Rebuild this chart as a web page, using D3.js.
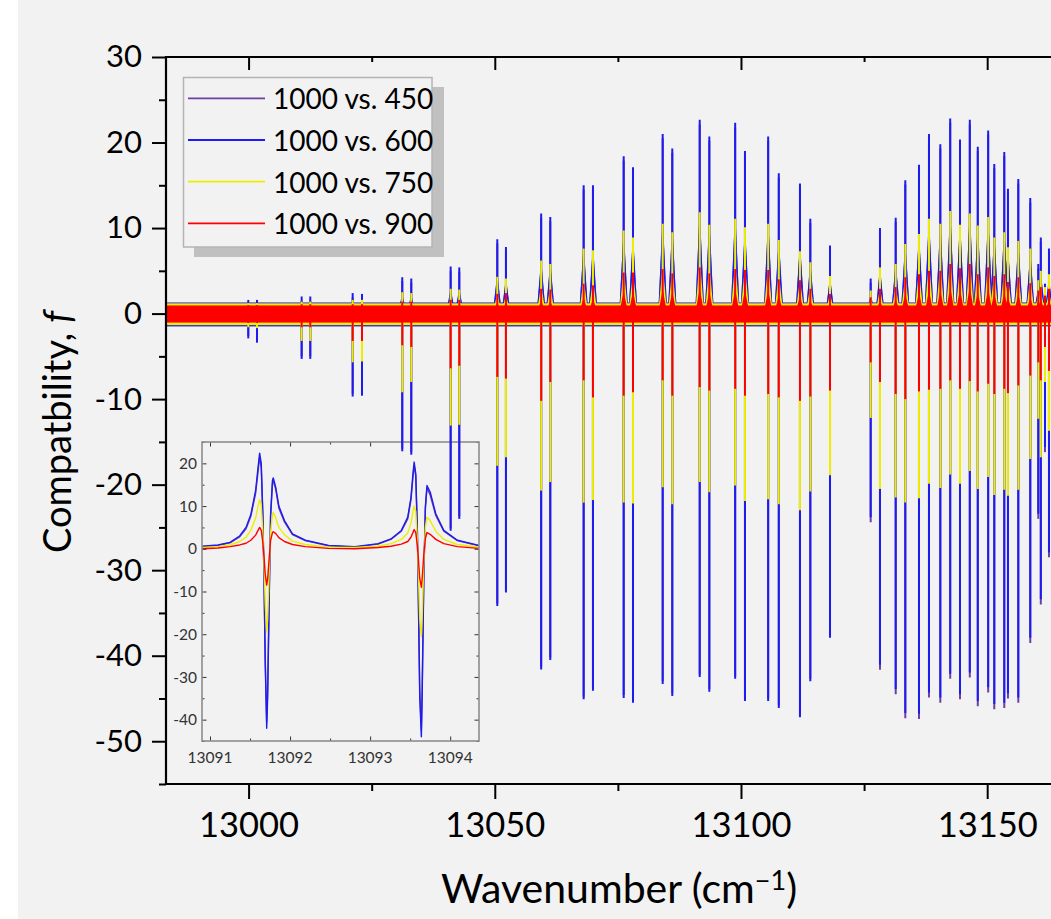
<!doctype html>
<html lang="en">
<head>
<meta charset="utf-8">
<title>Compatibility spectra</title>
<style>
  body { margin: 0; background: #ffffff; }
  svg { display: block; font-family: Lato, "Open Sans", sans-serif; }
</style>
</head>
<body>
<script src="https://cdnjs.cloudflare.com/ajax/libs/d3/7.8.5/d3.min.js"></script>
<script>

// ---- data ----
var seriesNames = ["1000 vs. 450", "1000 vs. 600", "1000 vs. 750", "1000 vs. 900"];
var seriesColors = ["#6e3fa3", "#1c1cf0", "#eded00", "#ff0000"];

// line centres (cm-1)
var lineWn = [12999.94, 13001.71, 13010.78, 13012.53, 13021.14, 13023.03, 13031.21, 13033.04,
  13041.04, 13042.79, 13050.51, 13052.27, 13059.42, 13061.27, 13068.05, 13069.94,
  13076.18, 13078.07, 13084.10, 13086.05, 13091.62, 13093.57, 13098.82, 13100.81,
  13105.52, 13107.68, 13111.98, 13114.08, 13118.08, 13126.34, 13128.23, 13131.42,
  13133.37, 13136.15, 13138.18, 13140.48, 13142.49, 13144.48, 13146.47, 13148.09,
  13150.20, 13151.44, 13153.47, 13154.22, 13156.32, 13158.75, 13160.38, 13160.89,
  13161.74, 13162.55];

// positive and negative extremes of f at each line
var max450 = [1.1, 1.1, 1.5, 1.5, 1.9, 1.8, 3.8, 3.6, 5.0, 4.9, 8.2, 7.3, 11.2, 10.8, 14.5, 14.5,
  17.9, 16.6, 20.5, 18.8, 22.1, 20.2, 21.8, 18.5, 20.2, 15.9, 14.7, 10.6, 7.4, 3.6, 9.5, 10.7,
  15.1, 16.9, 20.5, 19.3, 22.3, 19.8, 22.1, 19.0, 20.9, 17.0, 18.4, 14.1, 15.2, 13.0, 5.3, 8.4, 3.0, 7.1];
var min450 = [-2.6, -3.1, -5.0, -5.0, -9.4, -9.3, -15.8, -16.2, -25.1, -23.7, -33.9, -32.3, -41.3, -40.2,
  -44.8, -43.8, -44.6, -45.2, -43.0, -44.4, -42.2, -43.9, -42.4, -45.0, -45.0, -45.8, -46.9, -42.7, -37.6,
  -24.4, -41.65, -44.5, -47.3, -47.4, -44.9, -45.5, -42.7, -45.1, -42.55, -45.9, -44.3, -46.25, -46.1,
  -45.0, -45.5, -38.5, -24.0, -34.0, -16.2, -28.5];

var max600 = [1.6, 1.6, 2.0, 2.0, 2.4, 2.3, 4.25, 4.1, 5.5, 5.4, 8.7, 7.8, 11.7, 11.3, 15.0, 15.0,
  18.4, 17.1, 21.0, 19.3, 22.65, 20.7, 22.3, 19.0, 20.7, 16.4, 15.2, 11.1, 7.95, 4.1, 10.0, 11.2,
  15.6, 17.4, 21.0, 19.8, 22.8, 20.35, 22.65, 19.5, 21.4, 17.5, 18.9, 14.6, 15.75, 13.5, 5.8, 8.9, 3.5, 7.6];
var min600 = [-2.9, -3.4, -5.3, -5.3, -9.7, -9.6, -16.1, -16.5, -25.4, -24.0, -34.2, -32.6, -41.6, -40.5,
  -45.1, -44.1, -44.95, -45.5, -43.3, -44.7, -42.5, -44.2, -42.7, -45.3, -45.3, -46.1, -47.2, -43.0, -37.9,
  -23.8, -41.05, -43.9, -46.7, -46.8, -44.3, -44.9, -42.1, -44.5, -41.95, -45.3, -43.7, -45.65, -45.5,
  -44.4, -44.9, -37.9, -23.4, -33.4, -15.6, -27.9];

var max750 = [1.2, 1.2, 1.4, 1.4, 1.6, 1.6, 2.5, 2.4, 2.9, 2.8, 4.3, 4.1, 6.2, 5.8, 7.6, 7.4,
  9.7, 8.9, 10.5, 9.5, 11.85, 10.4, 11.1, 10.1, 10.5, 8.6, 7.3, 6.0, 4.4, 2.7, 5.4, 5.8,
  8.15, 9.3, 11.1, 10.5, 12.0, 10.4, 11.7, 10.3, 11.3, 8.9, 9.5, 7.75, 8.5, 7.6, 3.9, 5.0, 3.1, 4.6];
var min750 = [-1.6, -1.7, -3.2, -3.2, -5.7, -5.6, -9.2, -8.0, -13.1, -13.0, -17.8, -16.8, -20.7, -19.7,
  -22.1, -21.8, -22.1, -22.2, -20.3, -22.3, -19.7, -20.9, -20.1, -21.9, -21.7, -22.3, -23.0, -20.8, -18.9,
  -12.2, -20.5, -21.5, -22.1, -21.6, -19.9, -20.4, -18.8, -19.9, -18.4, -20.5, -19.1, -21.2, -20.6,
  -21.3, -20.6, -17.0, -12.3, -16.8, -8.0, -13.7];

var max900 = [1.0, 1.0, 1.1, 1.1, 1.1, 1.1, 1.4, 1.4, 1.6, 1.6, 2.3, 2.4, 2.9, 2.8, 3.5, 3.3,
  4.8, 4.8, 5.2, 4.7, 5.4, 4.7, 5.2, 5.1, 5.1, 4.0, 3.9, 2.9, 2.3, 1.9, 2.9, 3.1,
  4.25, 4.6, 5.0, 5.0, 5.8, 5.3, 5.8, 4.6, 5.4, 4.4, 4.6, 3.7, 4.25, 3.55, 2.7, 3.1, 2.1, 2.9];
var min900 = [-1.1, -1.1, -1.6, -1.6, -3.2, -3.2, -3.7, -3.9, -6.4, -6.1, -7.4, -7.6, -10.2, -8.0,
  -7.8, -9.8, -9.6, -9.2, -7.8, -9.6, -8.6, -9.0, -8.8, -9.6, -9.4, -9.8, -10.2, -9.7, -9.0,
  -5.7, -8.0, -9.4, -10.0, -9.1, -8.9, -8.8, -7.8, -8.8, -7.9, -9.1, -8.2, -9.4, -8.8,
  -9.3, -8.4, -7.25, -5.7, -7.8, -3.9, -6.7];

// baseline noise envelope of each series
var noiseUpper = [1.0, 1.3, 1.2, 0.95];
var noiseLower = [-1.0, -1.5, -1.35, -1.05];

// inset: one doublet traced point by point
var insetWn = [13090.9, 13091.1, 13091.25, 13091.37, 13091.45, 13091.51, 13091.57, 13091.6, 13091.62,
  13091.64, 13091.66, 13091.675, 13091.69, 13091.708, 13091.72, 13091.74, 13091.757, 13091.78, 13091.79,
  13091.82, 13091.86, 13091.93, 13092.03, 13092.19, 13092.48, 13092.81, 13093.1, 13093.26, 13093.39,
  13093.47, 13093.51, 13093.535, 13093.55, 13093.57, 13093.59, 13093.605, 13093.62, 13093.64, 13093.65,
  13093.67, 13093.69, 13093.71, 13093.75, 13093.82, 13093.92, 13094.09, 13094.36];
var inset450 = [0.5, 0.8, 1.4, 2.8, 4.7, 7.6, 13, 18, 21.5, 19, 7.6, -7, -26, -40.5, -33, -10.5, 7.6, 15.2,
  16, 14, 9.5, 6.3, 3.3, 1.9, 0.7, 0.4, 1.1, 2.2, 4.1, 7, 11.4, 16.7, 19.5, 17, 4.1, -14, -33, -42.5, -33,
  -7, 9.3, 14.2, 12.6, 7.8, 4.1, 1.9, 0.7];
var inset600 = [0.6, 0.9, 1.5, 3, 5, 8, 13.7, 19, 22.4, 20, 8, -7.4, -27, -42, -34.8, -11, 8, 16, 16.6,
  14.5, 10, 6.6, 3.5, 2, 0.8, 0.5, 1.2, 2.3, 4.3, 7.4, 12, 17.6, 20.3, 17.6, 4.3, -15, -34.8, -44, -34.8,
  -7.4, 9.8, 14.8, 13.3, 8.2, 4.3, 2, 0.8];
var inset750 = [0.3, 0.5, 0.9, 1.7, 2.7, 4.3, 7.2, 10, 11.5, 10.3, 4, -4, -13, -19.5, -16.5, -5, 4, 8, 8.5,
  7.3, 5, 3.3, 1.8, 1, 0.4, 0.3, 0.6, 1.2, 2.2, 3.7, 6, 8.7, 10, 8.8, 2, -7, -16.5, -20.5, -16.5, -3.5, 5,
  7.4, 6.6, 4.1, 2.2, 1, 0.4];
var inset900 = [0, 0.2, 0.5, 0.9, 1.3, 2, 3.2, 4.3, 5, 4.3, 1.5, -2, -6, -8.5, -7, -2, 2, 3.8, 4, 3.6, 2.6,
  1.7, 1, 0.5, 0.1, 0, 0.3, 0.6, 1.1, 1.7, 2.7, 3.8, 4.5, 3.8, 0.8, -3, -7, -9, -7, -1.5, 2.4, 3.8, 3.4,
  2.2, 1.2, 0.5, 0.1];

// ticks
var xTicks = [13000, 13050, 13100, 13150];
var xMinor = [13025, 13075, 13125];
var yTicks = [-50, -40, -30, -20, -10, 0, 10, 20, 30];
var yMinor = [-55, -45, -35, -25, -15, -5, 5, 15, 25];
var insetXTicks = [13091, 13092, 13093, 13094];
var insetXMinor = [13091.5, 13092.5, 13093.5];
var insetYTicks = [-40, -30, -20, -10, 0, 10, 20];
var insetYMinor = [-45, -35, -25, -15, -5, 5, 15, 25];

var seriesMax = [max450, max600, max750, max900];
var seriesMin = [min450, min600, min750, min900];
var insetSeries = [inset450, inset600, inset750, inset900];

// ---- layout ----
var w = 1051, h = 919;

var svg = d3.select("body").append("svg")
    .attr("width", w)
    .attr("height", h);

svg.append("rect").attr("width", w).attr("height", h).attr("fill", "#ffffff");
svg.append("rect").attr("x", 18).attr("width", w - 18).attr("height", h).attr("fill", "#f2f2f2");

var x = d3.scaleLinear().domain([12983.23, 13162.96]).range([166, 1051]);
var y = d3.scaleLinear().domain([-55, 30]).range([784, 57]);

var ix = d3.scaleLinear().domain([13090.9, 13094.36]).range([202, 479]);
var iy = d3.scaleLinear().domain([-45, 25]).range([741, 442]);

var defs = svg.append("defs");
defs.append("clipPath").attr("id", "mainClip")
  .append("rect").attr("x", 166).attr("y", 57).attr("width", 885).attr("height", 727);
defs.append("clipPath").attr("id", "insetClip")
  .append("rect").attr("x", 202).attr("y", 442).attr("width", 277).attr("height", 299);

// ---- inset (under the main traces) ----
var inset = svg.append("g");
inset.append("rect")
    .attr("x", 202).attr("y", 442).attr("width", 277).attr("height", 299)
    .attr("fill", "#f2f2f2");

var insetLine = d3.line()
    .x(function(d, i) { return ix(insetWn[i]); })
    .y(function(d) { return iy(d); });

inset.append("g").attr("clip-path", "url(#insetClip)")
  .selectAll("path")
  .data(insetSeries)
  .enter()
  .append("path")
    .attr("d", insetLine)
    .attr("fill", "none")
    .attr("stroke", function(d, i) { return seriesColors[i]; })
    .attr("stroke-width", 1.4)
    .attr("stroke-linejoin", "round");

function insetTicks(axis, tx, ty, values, size) {
  var g = inset.append("g")
      .attr("transform", "translate(" + tx + "," + ty + ")")
      .call(axis.tickValues(values).tickSize(size).tickSizeOuter(0).tickFormat(""));
  g.select(".domain").remove();
  g.selectAll(".tick line").attr("stroke", "#333").attr("stroke-width", 1);
}
insetTicks(d3.axisRight(iy), 202, 0, insetYTicks, 4.5);
insetTicks(d3.axisRight(iy), 202, 0, insetYMinor, 2.5);
insetTicks(d3.axisLeft(iy), 479, 0, insetYTicks, 4.5);
insetTicks(d3.axisLeft(iy), 479, 0, insetYMinor, 2.5);
insetTicks(d3.axisTop(ix), 0, 741, insetXTicks, 4.5);
insetTicks(d3.axisTop(ix), 0, 741, insetXMinor, 2.5);
insetTicks(d3.axisBottom(ix), 0, 442, insetXTicks, 4.5);
insetTicks(d3.axisBottom(ix), 0, 442, insetXMinor, 2.5);

inset.append("rect")
    .attr("x", 202).attr("y", 442).attr("width", 277).attr("height", 299)
    .attr("fill", "none")
    .attr("stroke", "#8c8c8c")
    .attr("stroke-width", 1.6);

inset.selectAll(".iyLabel")
  .data(insetYTicks)
  .enter()
  .append("text")
    .attr("x", 197)
    .attr("y", function(d) { return iy(d); })
    .attr("dy", "0.36em")
    .attr("text-anchor", "end")
    .attr("font-size", 15.5)
    .attr("fill", "#333")
    .text(function(d) { return d; });

inset.selectAll(".ixLabel")
  .data(insetXTicks)
  .enter()
  .append("text")
    .attr("x", function(d) { return ix(d); })
    .attr("y", 763)
    .attr("text-anchor", "middle")
    .attr("font-size", 15.5)
    .attr("fill", "#333")
    .text(function(d) { return d; });

// ---- main traces ----
var plot = svg.append("g").attr("clip-path", "url(#mainClip)");

seriesNames.forEach(function(name, s) {
  var g = plot.append("g");

  g.append("rect")
      .attr("x", x.range()[0])
      .attr("width", x.range()[1] - x.range()[0])
      .attr("y", y(noiseUpper[s]))
      .attr("height", y(noiseLower[s]) - y(noiseUpper[s]))
      .attr("fill", seriesColors[s]);

  // broadened foot of each positive lobe
  g.selectAll("path.wing")
    .data(lineWn)
    .enter()
    .append("path")
      .attr("class", "wing")
      .attr("d", function(d, i) {
        var cx = x(d), top = y(seriesMax[s][i] * 0.55), base = y(0);
        return "M" + (cx - 4.5) + "," + base + "L" + cx + "," + top + "L" + (cx + 4.5) + "," + base + "Z";
      })
      .attr("fill", seriesColors[s]);

  g.selectAll("line")
    .data(lineWn)
    .enter()
    .append("line")
      .attr("x1", function(d) { return x(d); })
      .attr("x2", function(d) { return x(d); })
      .attr("y1", function(d, i) { return y(seriesMax[s][i]); })
      .attr("y2", function(d, i) { return y(seriesMin[s][i]); })
      .attr("stroke", seriesColors[s])
      .attr("stroke-width", 2);
});

// ---- axes ----
function styleAxis(g, fontSize) {
  g.select(".domain").remove();
  g.selectAll(".tick line").attr("stroke", "#000").attr("stroke-width", 2);
  g.selectAll(".tick text")
    .attr("fill", "#000")
    .attr("font-size", fontSize)
    .attr("font-family", "Lato, 'Open Sans', sans-serif");
}

var plain = function(d) { return String(d); };

var gy = svg.append("g").attr("transform", "translate(166,0)")
    .call(d3.axisLeft(y).tickValues(yTicks).tickSize(14).tickPadding(10).tickFormat(plain));
styleAxis(gy, 31);
var gyMinor = svg.append("g").attr("transform", "translate(166,0)")
    .call(d3.axisLeft(y).tickValues(yMinor).tickSize(7).tickFormat(""));
styleAxis(gyMinor, 31);

var gx = svg.append("g").attr("transform", "translate(0,784)")
    .call(d3.axisBottom(x).tickValues(xTicks).tickSize(15).tickPadding(14).tickFormat(plain));
styleAxis(gx, 34.5);
var gxMinor = svg.append("g").attr("transform", "translate(0,784)")
    .call(d3.axisBottom(x).tickValues(xMinor).tickSize(7).tickFormat(""));
styleAxis(gxMinor, 34.5);

var gTop = svg.append("g").attr("transform", "translate(0,57)")
    .call(d3.axisBottom(x).tickValues(xTicks).tickSize(13).tickFormat(""));
styleAxis(gTop, 33);
var gTopMinor = svg.append("g").attr("transform", "translate(0,57)")
    .call(d3.axisBottom(x).tickValues(xMinor).tickSize(5).tickFormat(""));
styleAxis(gTopMinor, 33);

svg.append("path")
    .attr("d", "M1052,57H166V784H1052")
    .attr("fill", "none")
    .attr("stroke", "#000")
    .attr("stroke-width", 2.2);

// ---- titles ----
var xt = svg.append("text")
    .attr("x", 619)
    .attr("y", 903)
    .attr("text-anchor", "middle")
    .attr("font-size", 41)
    .attr("fill", "#000");
xt.append("tspan").text("Wavenumber (cm");
xt.append("tspan").attr("dy", -13).attr("font-size", 27).text("\u22121");
xt.append("tspan").attr("dy", 13).text(")");

var yt = svg.append("text")
    .attr("transform", "translate(71,432) rotate(-90)")
    .attr("text-anchor", "middle")
    .attr("font-size", 38)
    .attr("fill", "#000");
yt.append("tspan").text("Compatbility,\u00a0");
yt.append("tspan").attr("font-style", "italic").text("f");

// ---- legend ----
var legend = svg.append("g");
legend.append("rect")
    .attr("x", 194).attr("y", 87).attr("width", 250).attr("height", 170)
    .attr("fill", "#c0c0c0");
legend.append("rect")
    .attr("x", 183.5).attr("y", 77.5).attr("width", 248.5).attr("height", 169.5)
    .attr("fill", "#f2f2f2")
    .attr("stroke", "#b4b4b4")
    .attr("stroke-width", 1.5);

var rows = legend.selectAll(".row")
  .data(seriesNames)
  .enter()
  .append("g")
    .attr("transform", function(d, i) { return "translate(0," + (98.3 + i * 41.7) + ")"; });

rows.append("line")
    .attr("x1", 188).attr("x2", 265)
    .attr("stroke", function(d, i) { return seriesColors[i]; })
    .attr("stroke-width", 1.8);

rows.append("text")
    .attr("x", 273)
    .attr("y", 11)
    .attr("font-size", 28)
    .attr("fill", "#000")
    .text(function(d) { return d; });

</script>
</body>
</html>
